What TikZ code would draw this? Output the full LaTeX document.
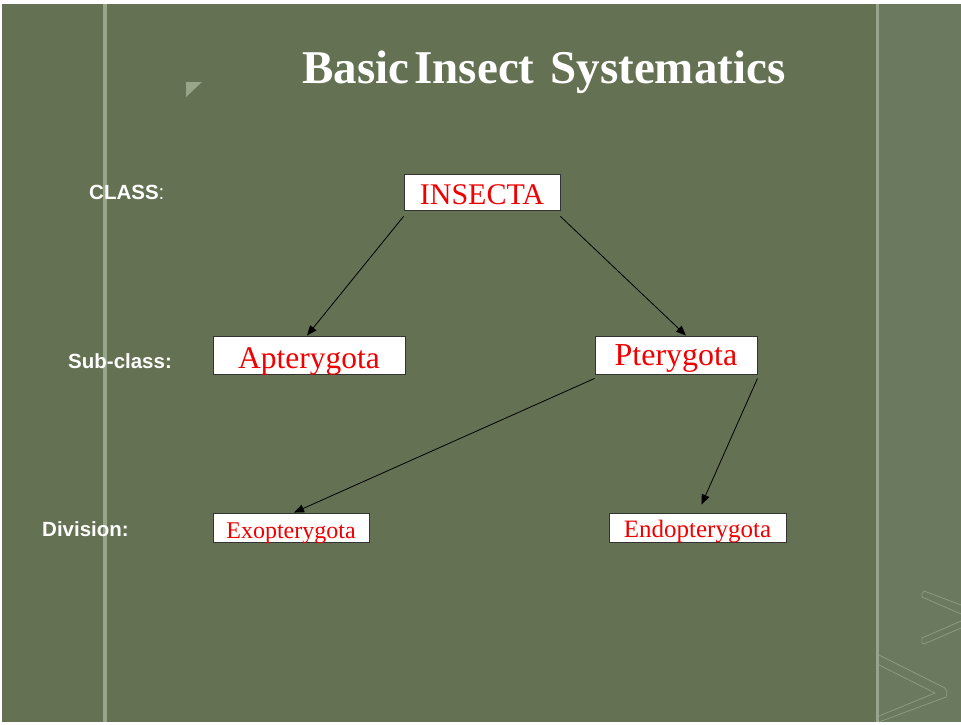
\documentclass[tikz,border=0pt]{standalone}
\usepackage{fontspec}
\setmainfont{Liberation Serif}
\newfontfamily\labfont{Liberation Sans}
\usetikzlibrary{arrows.meta}
\definecolor{bggreen}{RGB}{100,113,82}
\definecolor{stripgreen}{RGB}{107,121,94}
\definecolor{linegreen}{RGB}{151,166,138}
\definecolor{chevgreen}{RGB}{140,155,128}
\definecolor{boxred}{RGB}{240,0,0}
\tikzset{
  taxbox/.style={draw=black!80, line width=0.9pt, fill=white, text=boxred, inner sep=0pt, anchor=base, align=center},
  rankl/.style={text=white, font=\labfont\bfseries\fontsize{20.5}{23}\selectfont, inner sep=0pt, anchor=base west},
  arr/.style={draw=black, line width=0.8pt, -{Triangle[length=10pt,width=8pt]}}
}
\begin{document}
\begin{tikzpicture}[x=1pt,y=-1pt]
\useasboundingbox (0,0) rectangle (961,725);
\fill[white] (0,0) rectangle (961,725);
\fill[bggreen] (2,4) rectangle (961,722);
\fill[stripgreen] (879,4) rectangle (961,722);
\fill[linegreen] (103,4) rectangle (107,722);
\fill[linegreen] (876,4) rectangle (879,722);
\fill[linegreen] (186,82) -- (202,82) -- (186,97) -- cycle;
% chevrons
\draw[chevgreen, line width=0.8pt] (961,605) -- (924,591) -- (922,594) -- (922,597) -- (961,614);
\draw[chevgreen, line width=0.8pt] (961,621) -- (922,638) -- (922,643) -- (924,644) -- (961,628);
\draw[chevgreen, line width=0.8pt] (879,655) -- (945,688) -- (947,692) -- (946,697) -- (879,722);
\draw[chevgreen, line width=0.8pt] (879,665) -- (935,693) -- (879,716);
% title
\node[text=white, inner sep=0pt, anchor=base, font=\bfseries\fontsize{47}{52}\selectfont] (title) at (544,84) {Basic\hspace{5pt}Insect\hspace{16pt}Systematics};
% rank labels
\node[rankl] (lclass) at (89,199) {CLASS\textmd{:}};
\node[rankl] (lsub) at (68,368) {Sub-class:};
\node[rankl] (ldiv) at (42,536) {Division:};
% boxes
\node[taxbox, minimum width=156pt, text height=30pt, text depth=6pt, font=\fontsize{30}{32}\selectfont] (ins) at (482,204) {INSECTA};
\node[taxbox, minimum width=192pt, text height=32pt, text depth=6pt, font=\fontsize{31.5}{34}\selectfont] (apt) at (309,368) {Apterygota};
\node[taxbox, minimum width=162pt, text height=29pt, text depth=9pt, font=\fontsize{32}{34}\selectfont] (pte) at (676,365) {Pterygota};
\node[taxbox, minimum width=156pt, text height=25pt, text depth=4pt, font=\fontsize{24}{26}\selectfont] (exo) at (291,538) {Exopterygota};
\node[taxbox, minimum width=177pt, text height=24pt, text depth=5pt, font=\fontsize{25}{27}\selectfont] (endo) at (697.5,537) {Endopterygota};
% arrows
\draw[arr] ([yshift=-6pt]ins.south west) -- ([xshift=-2pt]apt.north);
\draw[arr] ([yshift=-6pt]ins.south east) -- ([xshift=10pt]pte.north);
\draw[arr] ([yshift=-4pt]pte.south west) -- ([xshift=3pt]exo.north);
\draw[arr] ([yshift=-4pt]pte.south east) -- ([xshift=4pt,yshift=8pt]endo.north);
\end{tikzpicture}
\end{document}
